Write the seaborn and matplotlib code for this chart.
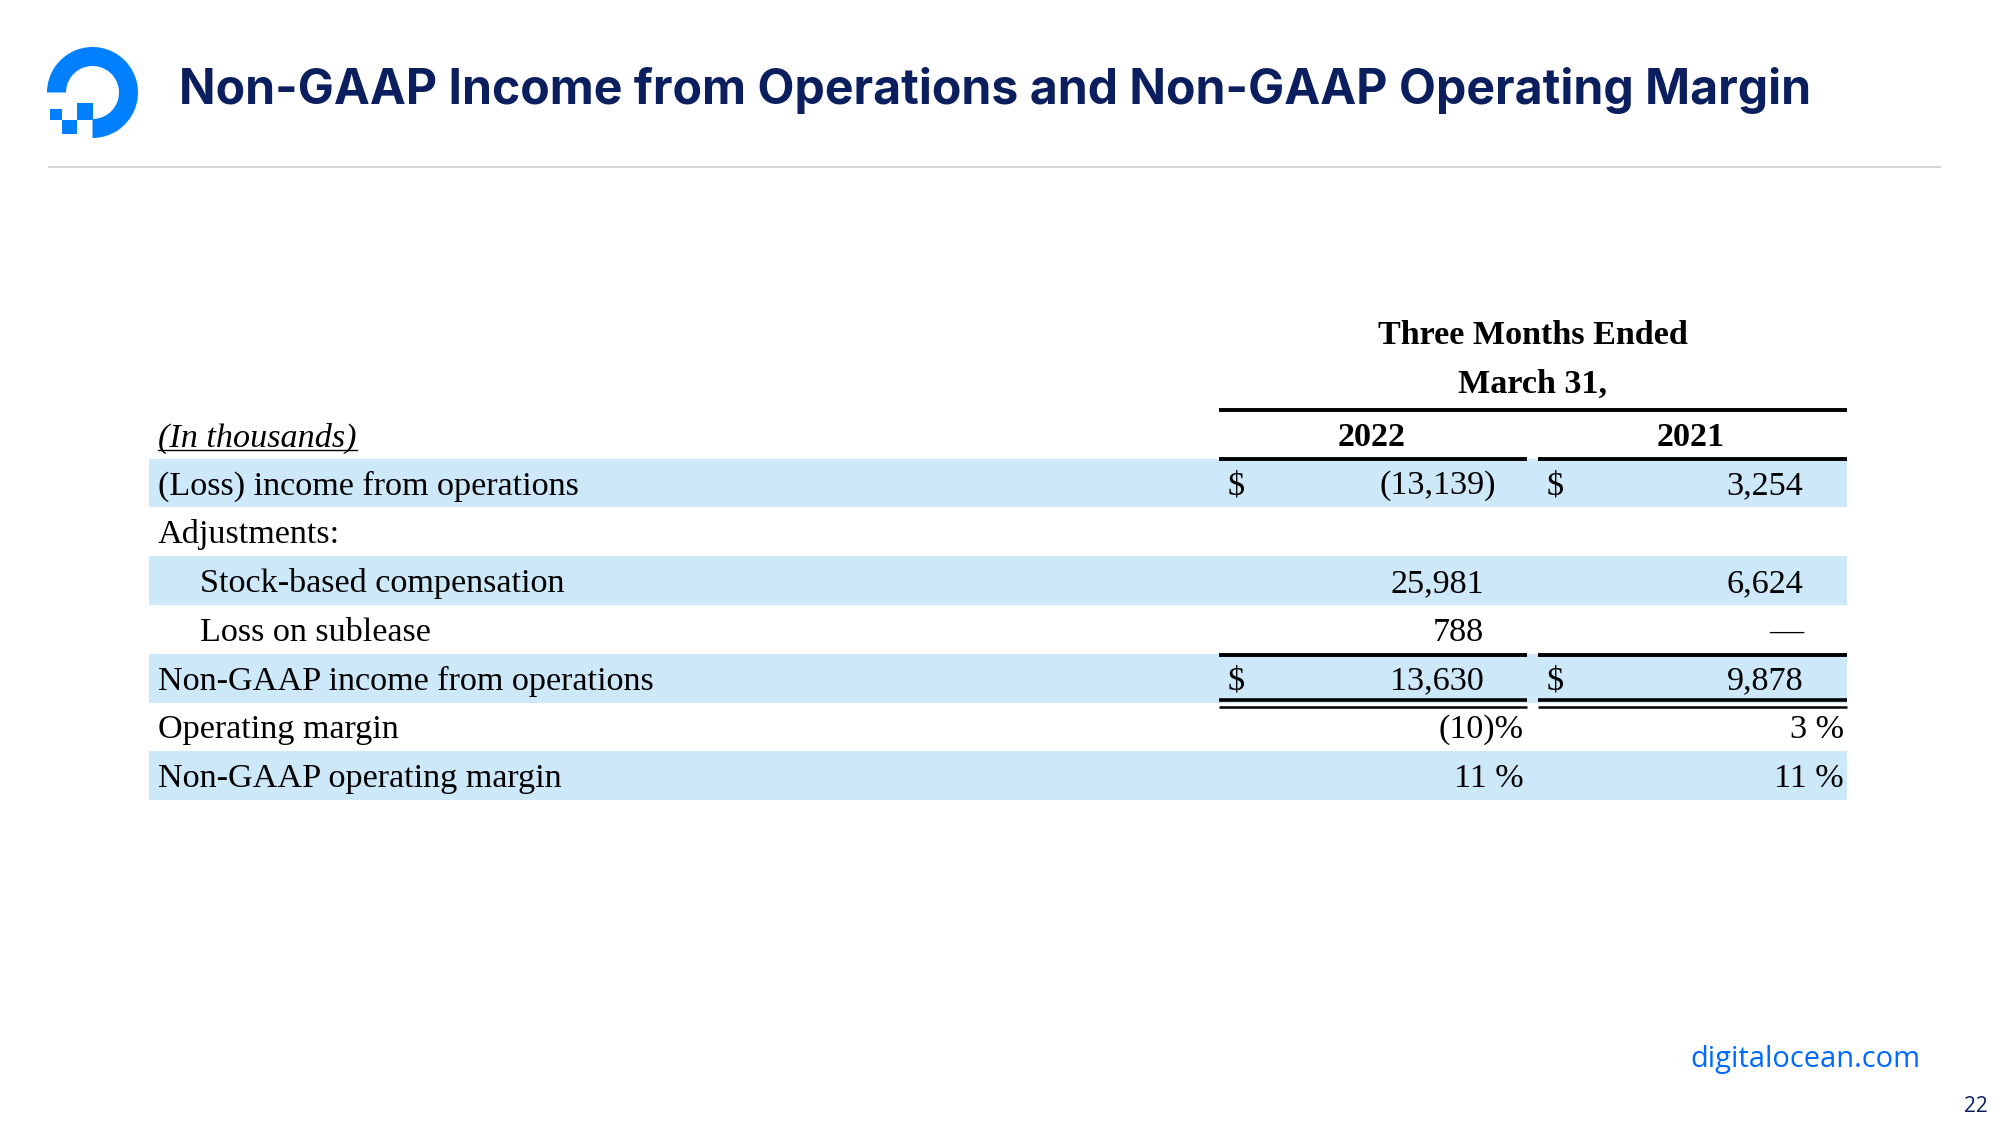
import matplotlib
matplotlib.use("Agg")
import matplotlib.pyplot as plt
from matplotlib.patches import Wedge, Rectangle
import seaborn as sns

# ---- data ----
title = "Non-GAAP Income from Operations and Non-GAAP Operating Margin"
header_top = ["Three Months Ended", "March 31,"]
years = ["2022", "2021"]
unit_label = "(In thousands)"
row_labels = ["(Loss) income from operations", "Adjustments:", "Stock-based compensation",
              "Loss on sublease", "Non-GAAP income from operations", "Operating margin",
              "Non-GAAP operating margin"]
row_indent = [False, False, True, True, False, False, False]
row_dollar = [True, False, False, False, True, False, False]
values_2022 = ["(13,139)", "", "25,981", "788", "13,630", "(10)%", "11 %"]
values_2021 = ["3,254", "", "6,624", "\u2014", "9,878", "3 %", "11 %"]
footer = "digitalocean.com"
page_no = "22"

sns.set_theme(style="white")
plt.rcParams['font.family'] = ['Liberation Serif', 'DejaVu Serif']

NAVY = "#0b1f5e"
BLUE = "#0080ff"
BAND = "#cde8f8"

fig = plt.figure(figsize=(20, 11.25), dpi=100)
ax = fig.add_axes([0, 0, 1, 1])
ax.set_xlim(0, 2000)
ax.set_ylim(1125, 0)
ax.axis('off')

# ---- logo ----
cx, cy = 92.5, 92.5
ax.add_patch(Wedge((cx, cy), 45.5, 180, 450, width=19, color=BLUE, lw=0))
ax.add_patch(Rectangle((77, 103), 16, 17, color=BLUE, lw=0))
ax.add_patch(Rectangle((62, 120), 15, 14, color=BLUE, lw=0))
ax.add_patch(Rectangle((50, 109), 12, 11, color=BLUE, lw=0))

# ---- title and rule ----
ax.text(179, 90, title, fontsize=34.7, fontweight='bold', color=NAVY,
        family=['Inter', 'DejaVu Sans'], ha='left', va='center')
ax.plot([48, 1941], [167, 167], color='#cfcfcf', lw=1.2, solid_capstyle='butt')

# ---- table ----
FS = 24.6
dy = 3
x_label = 158
x_indent = 200
x_d1, x_v1 = 1228, 1484
x_d2, x_v2 = 1547, 1803
x_pct1, x_pct2 = 1524, 1844
band_l, band_r = 149, 1847
row_h = 48.8
y0 = 483

ax.text(1533, 333 + dy, header_top[0], fontsize=FS, fontweight='bold', ha='center', va='center', color='black')
ax.text(1533, 381 + dy, header_top[1], fontsize=FS, fontweight='bold', ha='center', va='center', color='black')
ax.plot([1219, 1847], [409.5, 409.5], color='black', lw=2.8, solid_capstyle='butt')
ax.text(1372, 435 + dy, years[0], fontsize=FS, fontweight='bold', ha='center', va='center', color='black')
ax.text(1691, 435 + dy, years[1], fontsize=FS, fontweight='bold', ha='center', va='center', color='black')
ax.plot([1219, 1527], [459, 459], color='black', lw=2.8, solid_capstyle='butt')
ax.plot([1538, 1847], [459, 459], color='black', lw=2.8, solid_capstyle='butt')

t = ax.text(x_label, 435 + dy, unit_label, fontsize=FS, fontstyle='italic', ha='left', va='center', color='black')
fig.canvas.draw()
bb = t.get_window_extent().transformed(ax.transData.inverted())
ax.plot([bb.x0, bb.x1], [450, 450], color='black', lw=1.0)

for i, lab in enumerate(row_labels):
    y = y0 + i * row_h
    if i % 2 == 0:
        ax.add_patch(Rectangle((band_l, y - row_h / 2), band_r - band_l, row_h, color=BAND, lw=0, zorder=0))
    ty = y + dy
    ax.text(x_indent if row_indent[i] else x_label, ty, lab, fontsize=FS, ha='left', va='center', color='black')
    if row_dollar[i]:
        ax.text(x_d1, ty, "$", fontsize=FS, ha='left', va='center', color='black')
        ax.text(x_d2, ty, "$", fontsize=FS, ha='left', va='center', color='black')
    for val, xv, xp in ((values_2022[i], x_v1, x_pct1), (values_2021[i], x_v2, x_pct2)):
        if not val:
            continue
        if val.endswith('%'):
            ax.text(xp, ty, val, fontsize=FS, ha='right', va='center', color='black')
        elif val.endswith(')'):
            ax.text(xv + 12, ty, val, fontsize=FS, ha='right', va='center', color='black')
        else:
            ax.text(xv, ty, val, fontsize=FS, ha='right', va='center', color='black')

# rules around Non-GAAP income row
for (a, b) in ((1219, 1527), (1538, 1847)):
    ax.plot([a, b], [654.5, 654.5], color='black', lw=2.8, solid_capstyle='butt')
    ax.plot([a, b], [699.5, 699.5], color='black', lw=2.6, solid_capstyle='butt')
    ax.plot([a, b], [706.5, 706.5], color='black', lw=1.8, solid_capstyle='butt')

# ---- footer ----
ax.text(1920, 1060, footer, fontsize=20.9, color='#0069ff', ha='right', va='center',
        family=['Open Sans', 'DejaVu Sans'])
ax.text(1988, 1106, page_no, fontsize=15, color=NAVY, ha='right', va='center',
        family=['Open Sans', 'DejaVu Sans'])

fig.savefig("out.png", dpi=100)
